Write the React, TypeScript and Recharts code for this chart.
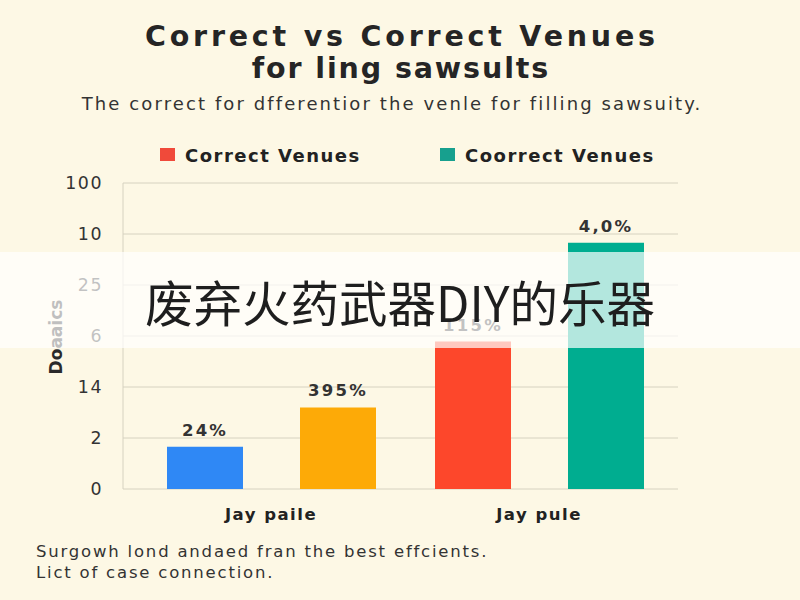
import React from "react";
import {
  BarChart,
  Bar,
  Cell,
  XAxis,
  YAxis,
  CartesianGrid,
  Legend,
  LabelList,
} from "recharts";

// chart values
const groups = ["Jay paile", "Jay pule"];
const seriesNames = ["Correct Venues", "Coorrect Venues"];
const correctValues = [0.83, 2.89];
const coorrectValues = [1.6, 4.83];
const correctLabels = ["24%", "115%"];
const coorrectLabels = ["395%", "4,0%"];
const yTickLabels = ["0", "2", "14", "6", "25", "10", "100"];

// colours per bar (first series, second series)
const correctColors = ["#2f88f5", "#fd472b"];
const coorrectColors = ["#fdaa07", "#00ad90"];

const data = groups.map((group, i) => ({
  group,
  correct: correctValues[i],
  coorrect: coorrectValues[i],
  correctLabel: correctLabels[i],
  coorrectLabel: coorrectLabels[i],
}));

const yTicks = yTickLabels.map((_, i) => i);

const FONT = "'DejaVu Sans', sans-serif";
const GRID = "#d6d2c0";

const LegendContent = (props: any) => {
  const items = [...(props.payload || [])].sort(
    (a: any, b: any) => seriesNames.indexOf(a.value) - seriesNames.indexOf(b.value)
  );
  return (
    <div style={{ display: "flex", paddingLeft: 160, fontFamily: FONT }}>
      {items.map((item: any, i: number) => (
        <div
          key={i}
          style={{
            display: "flex",
            alignItems: "flex-start",
            width: i === 0 ? 280 : "auto",
          }}
        >
          <span
            style={{
              display: "inline-block",
              width: 15,
              height: 13,
              marginTop: 2,
              marginRight: 10,
              background: item.color,
            }}
          />
          <span
            style={{
              fontSize: 18,
              lineHeight: "20px",
              fontWeight: "bold",
              letterSpacing: 1.5,
              color: "#222",
            }}
          >
            {item.value}
          </span>
        </div>
      ))}
    </div>
  );
};

const YLabel = (props: any) => {
  const vb = props.viewBox || {};
  const cx = vb.x + 13;
  const cy = vb.y + vb.height / 2 + 1;
  return (
    <text
      x={cx}
      y={cy}
      transform={`rotate(-90, ${cx}, ${cy})`}
      textAnchor="middle"
      dominantBaseline="central"
      fill="#2a2a2a"
      fontSize={17}
      fontWeight="bold"
      fontFamily={FONT}
    >
      Doaaics
    </text>
  );
};

export default function App() {
  return (
    <div
      style={{
        position: "absolute",
        left: 0,
        top: 0,
        width: 800,
        height: 600,
        background: "#fdf8e5",
        overflow: "hidden",
        fontFamily: FONT,
      }}
    >
      <div
        style={{
          position: "absolute",
          top: 20.5,
          left: 0,
          width: 800,
          textAlign: "center",
          fontSize: 28.5,
          lineHeight: "32px",
          fontWeight: "bold",
          letterSpacing: 3.8,
          paddingLeft: 3.8,
          boxSizing: "border-box",
          color: "#252525",
        }}
      >
        Correct vs Correct Venues
      </div>
      <div
        style={{
          position: "absolute",
          top: 52.5,
          left: 0,
          width: 800,
          textAlign: "center",
          fontSize: 28.5,
          lineHeight: "32px",
          fontWeight: "bold",
          letterSpacing: 1.9,
          paddingLeft: 1.9,
          boxSizing: "border-box",
          color: "#252525",
        }}
      >
        for ling sawsults
      </div>
      <div
        style={{
          position: "absolute",
          top: 93.3,
          left: 0,
          width: 784,
          textAlign: "center",
          fontSize: 18,
          lineHeight: "21px",
          letterSpacing: 2.1,
          color: "#333",
        }}
      >
        The correct for dfferentior the venle for filling sawsuity.
      </div>

      <div style={{ position: "absolute", left: 0, top: 0 }}>
        <BarChart
          width={800}
          height={600}
          data={data}
          margin={{ top: 183, right: 122, bottom: 81, left: 43 }}
          barSize={76}
          barGap={57}
        >
          <CartesianGrid vertical={false} stroke={GRID} />
          <XAxis
            dataKey="group"
            padding={{ left: 14, right: 5 }}
            axisLine={false}
            tickLine={false}
            tickSize={0}
            tickMargin={19}
            height={30}
            tick={{
              fill: "#222",
              fontSize: 16.5,
              fontWeight: "bold",
              fontFamily: FONT,
              letterSpacing: 1.5,
            }}
          />
          <YAxis
            type="number"
            domain={[0, 6]}
            ticks={yTicks}
            interval={0}
            tickFormatter={(v: number) => yTickLabels[v]}
            width={80}
            axisLine={{ stroke: GRID }}
            tickLine={false}
            tickSize={0}
            tickMargin={20}
            tick={{
              fill: "#333",
              fontSize: 17.4,
              fontFamily: FONT,
              letterSpacing: 1.5,
            }}
            label={{ value: "Doaaics", content: YLabel }}
          />
          <Legend
            verticalAlign="middle"
            content={LegendContent}
            wrapperStyle={{ top: 146, left: 0, width: 800 }}
          />
          <Bar
            dataKey="correct"
            name={seriesNames[0]}
            fill="#f04a3a"
            isAnimationActive={false}
          >
            {data.map((_, i) => (
              <Cell key={i} fill={correctColors[i]} />
            ))}
            <LabelList
              dataKey="correctLabel"
              position="top"
              offset={11}
              fill="#333"
              fontSize={16.5}
              fontWeight="bold"
              fontFamily={FONT}
              style={{ letterSpacing: 2.2 }}
            />
          </Bar>
          <Bar
            dataKey="coorrect"
            name={seriesNames[1]}
            fill="#17a08e"
            isAnimationActive={false}
          >
            {data.map((_, i) => (
              <Cell key={i} fill={coorrectColors[i]} />
            ))}
            <LabelList
              dataKey="coorrectLabel"
              position="top"
              offset={11}
              fill="#333"
              fontSize={16.5}
              fontWeight="bold"
              fontFamily={FONT}
              style={{ letterSpacing: 2.2 }}
            />
          </Bar>
        </BarChart>
      </div>

      {/* semi-transparent banner over the chart */}
      <div
        style={{
          position: "absolute",
          left: 0,
          top: 252,
          width: 800,
          height: 96,
          background: "rgba(255,255,255,0.7)",
        }}
      />
      <div
        style={{
          position: "absolute",
          left: 0,
          top: 277,
          width: 800,
          textAlign: "center",
          fontFamily: "'Noto Sans CJK SC', sans-serif",
          fontSize: 48.5,
          lineHeight: "48px",
          color: "#1e1e1e",
        }}
      >
        废弃火药武器DIY的乐器
      </div>

      <div
        style={{
          position: "absolute",
          left: 36,
          top: 540.5,
          fontSize: 16.5,
          lineHeight: "21px",
          letterSpacing: 1.8,
          color: "#333",
        }}
      >
        <div>Surgowh lond andaed fran the best effcients.</div>
        <div>Lict of case connection.</div>
      </div>
    </div>
  );
}
